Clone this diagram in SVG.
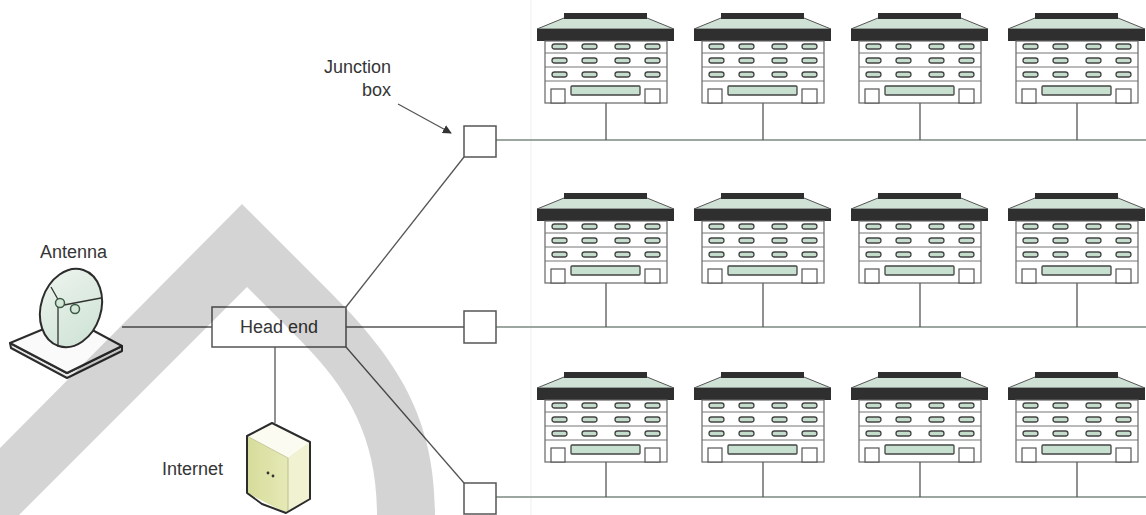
<svg xmlns="http://www.w3.org/2000/svg" xmlns:xlink="http://www.w3.org/1999/xlink" width="1146" height="515" viewBox="0 0 1146 515">
  <style>
    .lbl { font-family: "Liberation Sans", Arial, sans-serif; font-size: 18px; fill: #353535; }
    .wire { stroke: #555; stroke-width: 1.3; fill: none; }
    .bus { stroke: #7d8a83; stroke-width: 1.4; fill: none; }
    .jbox { fill: #fff; stroke: #555; stroke-width: 1.5; }
    .dark { fill: #2f2f2f; }
    .win { fill: #c3dccb; stroke: #444; stroke-width: 1.3; }
    .wall { fill: #fff; stroke: #666; stroke-width: 1.2; }
    .floor { stroke: #777; stroke-width: 1.1; }
    .outline { stroke: #2c2c2c; stroke-width: 2; stroke-linejoin: round; }
  </style>
  <defs>
    <marker id="arrow" viewBox="0 0 10 10" refX="9" refY="5" markerWidth="9" markerHeight="9" markerUnits="userSpaceOnUse" orient="auto">
      <path d="M0,0 L10,5 L0,10 Z" fill="#333"/>
    </marker>
    <linearGradient id="dishFill" x1="0" y1="0" x2="1" y2="1">
      <stop offset="0" stop-color="#eef4ef"/>
      <stop offset="1" stop-color="#cde2d3"/>
    </linearGradient>
    <linearGradient id="serverFill" x1="0" y1="0" x2="1" y2="0">
      <stop offset="0" stop-color="#d6dc9a"/>
      <stop offset="1" stop-color="#eef0c6"/>
    </linearGradient>
    <!-- apartment block, drawn at the first column / first row position -->
    <g id="building">
      <path d="M564,18 H647 L674,29 H537 Z" fill="#cfe2d5" stroke="#555" stroke-width="1"/>
      <rect class="dark" x="564" y="13" width="83" height="6"/>
      <rect class="dark" x="537" y="29" width="137" height="12"/>
      <rect class="wall" x="545" y="41" width="122" height="62"/>
      <line class="floor" x1="545" y1="53" x2="667" y2="53" stroke="#8fb09c"/>
      <line class="floor" x1="545" y1="67" x2="667" y2="67"/>
      <line class="floor" x1="545" y1="81" x2="667" y2="81"/>
      <g>
        <rect class="win" x="552" y="44" width="15" height="5" rx="2.5"/>
        <rect class="win" x="582" y="44" width="15" height="5" rx="2.5"/>
        <rect class="win" x="615" y="44" width="15" height="5" rx="2.5"/>
        <rect class="win" x="645" y="44" width="15" height="5" rx="2.5"/>
        <rect class="win" x="552" y="58" width="15" height="5" rx="2.5"/>
        <rect class="win" x="582" y="58" width="15" height="5" rx="2.5"/>
        <rect class="win" x="615" y="58" width="15" height="5" rx="2.5"/>
        <rect class="win" x="645" y="58" width="15" height="5" rx="2.5"/>
        <rect class="win" x="552" y="72" width="15" height="5" rx="2.5"/>
        <rect class="win" x="582" y="72" width="15" height="5" rx="2.5"/>
        <rect class="win" x="615" y="72" width="15" height="5" rx="2.5"/>
        <rect class="win" x="645" y="72" width="15" height="5" rx="2.5"/>
      </g>
      <rect x="571" y="86" width="69" height="9" rx="1" fill="#c8e0cf" stroke="#444" stroke-width="1.3"/>
      <rect x="551" y="89" width="14" height="14" fill="#fff" stroke="#555" stroke-width="1.2"/>
      <rect x="645" y="89" width="15" height="14" fill="#fff" stroke="#555" stroke-width="1.2"/>
    </g>
  </defs>

  <rect width="1146" height="515" fill="#fff"/>
  <line x1="531" y1="0" x2="531" y2="515" stroke="#efefef" stroke-width="1"/>

  <!-- connectors -->
  <g id="connectors">
    <line class="wire" x1="122" y1="327" x2="212" y2="327"/>
    <line class="wire" x1="346" y1="327" x2="464" y2="327"/>
    <line class="wire" x1="346" y1="307" x2="464" y2="157"/>
    <line class="wire" x1="346" y1="347" x2="464" y2="483"/>
    <line class="wire" x1="275" y1="347" x2="275" y2="423"/>
    <line class="wire" x1="398" y1="104" x2="451" y2="133" marker-end="url(#arrow)"/>
    <!-- distribution buses -->
    <line class="bus" x1="496" y1="140" x2="1146" y2="140"/>
    <line class="bus" x1="496" y1="327" x2="1146" y2="327"/>
    <line class="bus" x1="496" y1="497" x2="1146" y2="497"/>
    <!-- building drops -->
    <g class="wire">
      <line x1="606" y1="103" x2="606" y2="140"/>
      <line x1="763" y1="103" x2="763" y2="140"/>
      <line x1="920" y1="103" x2="920" y2="140"/>
      <line x1="1077" y1="103" x2="1077" y2="140"/>
      <line x1="606" y1="283" x2="606" y2="327"/>
      <line x1="763" y1="283" x2="763" y2="327"/>
      <line x1="920" y1="283" x2="920" y2="327"/>
      <line x1="1077" y1="283" x2="1077" y2="327"/>
      <line x1="606" y1="462" x2="606" y2="497"/>
      <line x1="763" y1="462" x2="763" y2="497"/>
      <line x1="920" y1="462" x2="920" y2="497"/>
      <line x1="1077" y1="462" x2="1077" y2="497"/>
    </g>
  </g>

  <!-- antenna -->
  <g id="antenna">
    <path class="outline" d="M10,343 L67,373 L122,346 L122,351 L67,378 L11,348 Z" fill="#e8e8e8"/>
    <path class="outline" d="M10,343 L70,318 L122,346 L67,373 Z" fill="#fafafa"/>
    <ellipse class="outline" cx="71" cy="308" rx="30" ry="40" transform="rotate(18 71 308)" fill="url(#dishFill)"/>
    <path d="M51,287 L60,303 M64,305 L101,298 M58,307 L58,347" stroke="#333" stroke-width="1.3" fill="none"/>
    <circle cx="60" cy="303" r="4.5" fill="#d3e6d8" stroke="#3b5a44" stroke-width="1.5"/>
    <circle cx="75" cy="309" r="4.5" fill="#d3e6d8" stroke="#3b5a44" stroke-width="1.5"/>
    <text class="lbl" x="40" y="258">Antenna</text>
  </g>

  <!-- head end -->
  <g id="head-end">
    <rect x="212" y="307" width="134" height="40" fill="#fff" stroke="#555" stroke-width="1.5"/>
    <text class="lbl" x="279" y="333" text-anchor="middle">Head end</text>
  </g>

  <!-- internet server -->
  <g id="internet">
    <path d="M247,436 L272,423 L310,442 L310,499 L286,513 L247,493 Z" fill="url(#serverFill)"/>
    <path d="M247,436 L272,423 L310,442 L288,458 Z" fill="#fbfbf2"/>
    <path d="M288,458 L310,442 L310,499 L288,512 Z" fill="#f1f2d2"/>
    <line x1="288" y1="458" x2="288" y2="512" stroke="#b9bf86" stroke-width="1"/>
    <line x1="247" y1="436" x2="288" y2="458" stroke="#c7cb9e" stroke-width="1"/>
    <path class="outline" d="M247,436 L272,423 L310,442 L310,499 L286,513 L262,504 L247,493 Z" fill="none"/>
    <circle cx="268" cy="473" r="1.4" fill="#333"/>
    <circle cx="273" cy="476" r="1.4" fill="#333"/>
    <text class="lbl" x="162" y="475">Internet</text>
  </g>

  <!-- junction boxes -->
  <g id="junction-1">
    <rect class="jbox" x="464" y="126" width="32" height="31"/>
    <text class="lbl" x="391" y="73" text-anchor="end">Junction</text>
    <text class="lbl" x="391" y="96" text-anchor="end">box</text>
  </g>
  <g id="junction-2"><rect class="jbox" x="464" y="311" width="32" height="32"/></g>
  <g id="junction-3"><rect class="jbox" x="464" y="483" width="32" height="31"/></g>

  <!-- buildings: columns every 157 px, rows at 0 / 180 / 359 -->
  <g id="b-r1c1"><use xlink:href="#building" href="#building"/></g>
  <g id="b-r1c2"><use xlink:href="#building" href="#building" x="157"/></g>
  <g id="b-r1c3"><use xlink:href="#building" href="#building" x="314"/></g>
  <g id="b-r1c4"><use xlink:href="#building" href="#building" x="471"/></g>
  <g id="b-r2c1"><use xlink:href="#building" href="#building" y="180"/></g>
  <g id="b-r2c2"><use xlink:href="#building" href="#building" x="157" y="180"/></g>
  <g id="b-r2c3"><use xlink:href="#building" href="#building" x="314" y="180"/></g>
  <g id="b-r2c4"><use xlink:href="#building" href="#building" x="471" y="180"/></g>
  <g id="b-r3c1"><use xlink:href="#building" href="#building" y="359"/></g>
  <g id="b-r3c2"><use xlink:href="#building" href="#building" x="157" y="359"/></g>
  <g id="b-r3c3"><use xlink:href="#building" href="#building" x="314" y="359"/></g>
  <g id="b-r3c4"><use xlink:href="#building" href="#building" x="471" y="359"/></g>

  <!-- translucent grey band across the left half -->
  <path d="M0,448 L242,204 L330,292 C400,362 435,420 435,515 L377,515 C377,440 350,390 300,340 L247,287 L19,515 L0,515 Z" fill="#000" fill-opacity="0.17"/>
</svg>
